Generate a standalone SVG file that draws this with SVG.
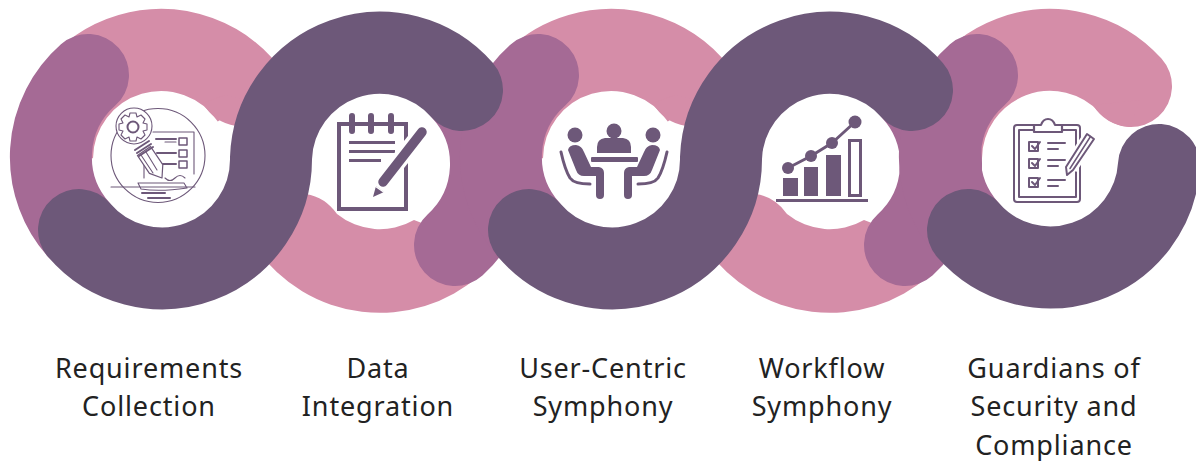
<svg xmlns="http://www.w3.org/2000/svg" width="1196" height="461" viewBox="0 0 1196 461">
<style>
.band{fill:none;stroke-width:82;stroke-linecap:round}
.butt{stroke-linecap:butt}
.p{stroke:#D58DA8}.m{stroke:#A56A95}.d{stroke:#6D5879}
.pf{fill:#D58DA8}
.lb{font-family:"Noto Sans","Liberation Sans",sans-serif;font-size:27px;letter-spacing:.85px;fill:#222;text-anchor:middle}
.ic{fill:#6D5879;stroke:none}
.il{fill:none;stroke:#6D5879;stroke-width:3;stroke-linecap:round;stroke-linejoin:round}
.th{fill:none;stroke:#6D5879;stroke-width:1.1;stroke-linecap:round;stroke-linejoin:round}
.md{stroke-width:2}
.halo{fill:none;stroke:#fff;stroke-linecap:butt}
</style>
<defs>
<path id="pinkLow" class="pf" d="M256,248A151,151 0 0 0 480,275L440,230L414,220A68,68 0 0 1 337,214Q325,197 306,194Z"/>
<path id="pinkTop" class="band p butt" d="M52,158A109,109 0 0 1 252,99"/>
<path id="pinkFil" class="pf" d="M203,103Q213,122 236,126L245,100L225,95Z"/>
</defs>
<g id="connectors">
<use href="#pinkTop"/>
<use href="#pinkTop" x="450"/>
<use href="#pinkFil"/>
<use href="#pinkFil" x="450"/>
<use href="#pinkLow"/>
<use href="#pinkLow" x="450"/>
<path class="band p" d="M941,158A109,109 0 0 1 1131,86"/>
<path class="pf" d="M1093,105Q1105,125 1130,127L1140,100Z"/>
<path class="band m" d="M88,75A109,109 0 0 0 79,230"/>
<path class="band m" d="M455,245A109,109 0 0 0 462,90"/>
<path class="band m" d="M538,75A109,109 0 0 0 529,230"/>
<path class="band m" d="M905,245A109,109 0 0 0 912,90"/>
<path class="band m" d="M977,75A109,109 0 0 0 968,230"/>
<path class="band d" d="M79,230A109,109 0 0 0 271,158A109,109 0 0 1 462,90"/>
<path class="band d" d="M529,230A109,109 0 0 0 721,158A109,109 0 0 1 912,90"/>
<path class="band d" d="M968,230A109,109 0 0 0 1159,165"/>
</g>
<g id="node-requirements">
<circle class="th" cx="158" cy="155.500" r="47"/>
<path class="th" d="M153,132H194V174M144,178V164"/>
<path class="th md" d="M156,139H176M157,153H176M157,164H176"/>
<path class="th" d="M165,142H176"/>
<path class="il" style="stroke-width:1.500" d="M179,138h8v7h-8zM179,150h8v7h-8zM179,161h8v7h-8z"/>
<circle cx="134" cy="126" r="18" fill="#fff" stroke="#6D5879" stroke-width="1.100"/>
<circle class="th md" cx="133" cy="127" r="5.500"/>
<path class="th" d="M130,113H136L137,117L141,115L145,119L143,123L147,124V130L143,131L145,135L141,139L137,137L136,141H130L129,137L125,139L121,135L123,131L119,130V124L123,123L121,119L125,115L129,117Z"/>
<path d="M150.600,146.600L162.800,164.600L162,178L149.400,173.400L137.400,155.400Z" fill="#fff" stroke="#6D5879" stroke-width="1.200" stroke-linejoin="round"/>
<path class="th md" d="M135,150L149,141M137,153L151,144M139,156L153,147"/>
<path class="th" d="M146,152L157,170M141,155L153,173"/>
<path class="th" d="M165,178Q170,183 175,178T185,178M138,183H184L187,188Q160,192 141,189ZM111,187H195"/>
<path class="th md" d="M142,193H165M148,198H170"/>
<text class="lb" x="149" y="378">Requirements</text>
<text class="lb" x="149" y="416">Collection</text>
</g>
<g id="node-data-integration">
<rect x="339" y="124" width="67" height="85" fill="none" stroke="#6D5879" stroke-width="4"/>
<path d="M352,116V131M371,116V131M391,116V131" fill="none" stroke="#6D5879" stroke-width="6" stroke-linecap="round"/>
<path d="M349,142.500H395M349,151.500H395M349,160.500H381" fill="none" stroke="#6D5879" stroke-width="2.800"/>
<path class="halo" style="stroke-width:17" d="M422,132L382,182"/>
<path d="M422,132L383,182" fill="none" stroke="#6D5879" stroke-width="9.500" stroke-linecap="round"/>
<path class="ic" d="M373,197L376,186L384,192Z"/>
<path d="M375,186L385,193" stroke="#fff" stroke-width="1.500"/>
<text class="lb" x="378" y="378">Data</text>
<text class="lb" x="378" y="416">Integration</text>
</g>
<g id="node-user-centric">
<circle class="ic" cx="575" cy="135" r="7.500"/>
<circle class="ic" cx="614" cy="131" r="7.500"/>
<circle class="ic" cx="653" cy="135" r="7.500"/>
<path class="ic" d="M597,153V147Q597,139 605,138H623Q631,139 631,147V153Z"/>
<rect class="ic" x="591" y="157" width="47" height="5" rx="1"/>
<path class="ic" d="M568,150Q569,145 576,145Q582,146 584,152L591,167H599Q604,168 604,173V195Q604,199 600,199Q596,199 596,195V176H584Q578,176 576,170Z"/>
<path class="ic" d="M660,150Q659,145 652,145Q646,146 644,152L637,167H629Q624,168 624,173V195Q624,199 628,199Q632,199 632,195V176H644Q650,176 652,170Z"/>
<path d="M561,152Q565,170 570,178Q574,184 590,184M667,152Q663,170 658,178Q654,184 638,184" fill="none" stroke="#6D5879" stroke-width="3" stroke-linecap="round"/>
<text class="lb" x="603" y="378">User-Centric</text>
<text class="lb" x="603" y="416">Symphony</text>
</g>
<g id="node-workflow">
<rect class="ic" x="783" y="178" width="15" height="18"/>
<rect class="ic" x="804" y="167" width="14" height="29"/>
<rect class="ic" x="826" y="155" width="15" height="41"/>
<rect x="849.500" y="140.500" width="11" height="55" fill="none" stroke="#6D5879" stroke-width="3"/>
<path class="ic" d="M776,199H868V202H776Z"/>
<path class="il" d="M788,168L811,156L832,143L855,122"/>
<circle class="ic" cx="788" cy="168" r="6"/>
<circle class="ic" cx="811" cy="156" r="6"/>
<circle class="ic" cx="832" cy="143" r="6"/>
<circle class="ic" cx="855" cy="122" r="6.500"/>
<text class="lb" x="822" y="378">Workflow</text>
<text class="lb" x="822" y="416">Symphony</text>
</g>
<g id="node-guardians">
<rect class="il md" x="1014" y="125" width="66" height="77" rx="3"/>
<rect class="il md" x="1019" y="130" width="57" height="67"/>
<path d="M1034,132V125H1041Q1043,119 1048,119Q1053,119 1055,125H1062V132Z" fill="#fff" stroke="#6D5879" stroke-width="2.200" stroke-linejoin="round"/>
<path class="il md" d="M1029,142h9v9h-9zM1029,159h9v9h-9zM1029,178h9v9h-9z"/>
<path class="il md" d="M1032,146L1035,149L1040,142M1032,163L1035,166L1040,159M1032,182L1035,185L1040,178"/>
<path class="il md" d="M1048,143H1065M1048,149H1058M1048,160H1065M1048,166H1058M1048,180H1065M1048,186H1058"/>
<path class="halo" style="stroke-width:15" d="M1090,137L1070,168"/>
<path class="il md" d="M1087,134L1094,139L1073,170L1067,175L1066,167Z"/>
<path class="il" style="stroke-width:1.500" d="M1090.500,136.500L1070,168.500"/>
<text class="lb" x="1054" y="378">Guardians of</text>
<text class="lb" x="1054" y="416">Security and</text>
<text class="lb" x="1054" y="455">Compliance</text>
</g>
</svg>
